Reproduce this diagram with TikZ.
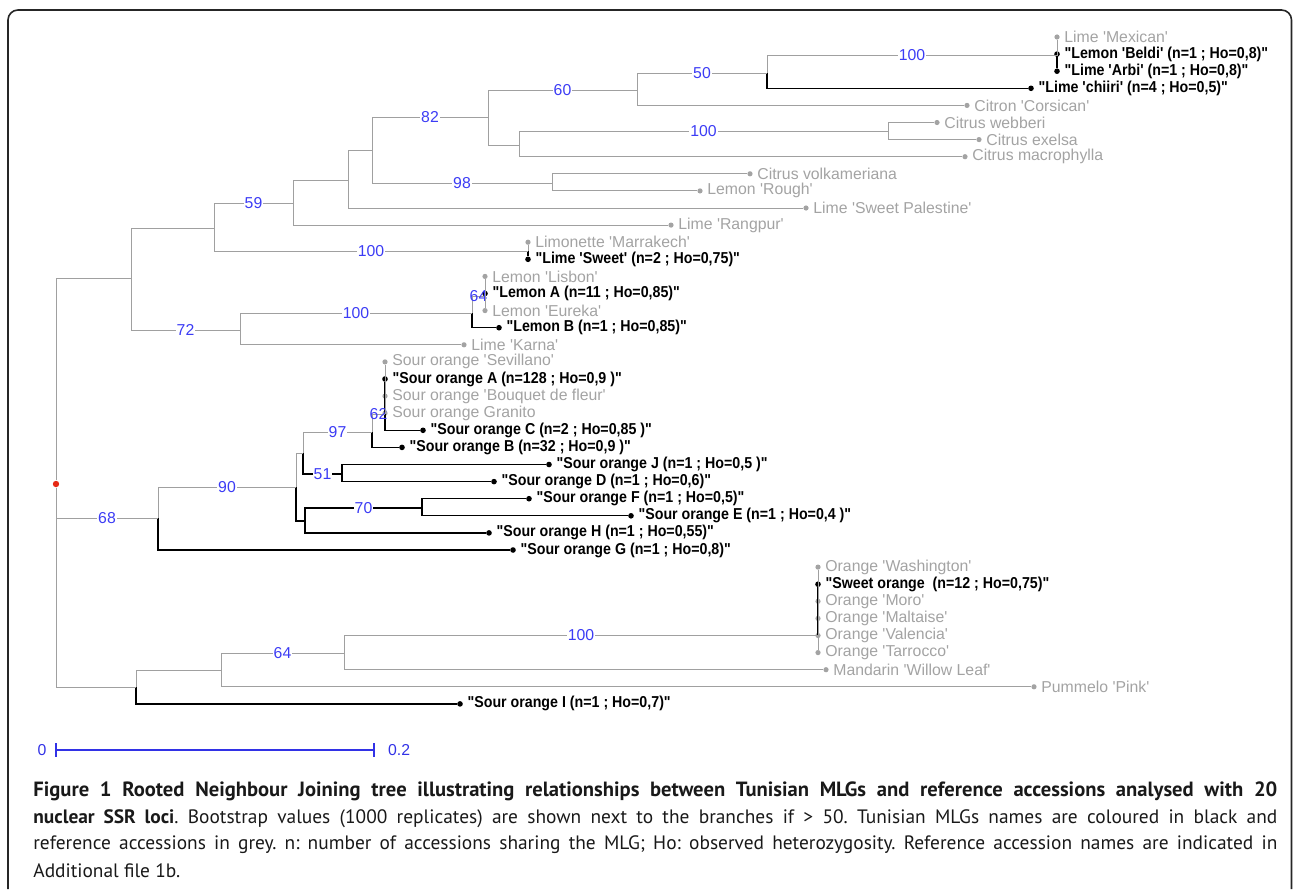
\documentclass[tikz,border=0pt]{standalone}
\usepackage{fontspec}
\setmainfont{Liberation Sans}
\newfontfamily\leaffont{Liberation Sans}
\newfontfamily\mlgfont{Liberation Sans}[FakeStretch=0.9]
\newfontfamily\capfont{PT Sans}
\frenchspacing

\definecolor{refgrey}{RGB}{163,163,163}
\definecolor{brgrey}{RGB}{160,160,160}
\definecolor{bootblue}{RGB}{60,60,245}
\definecolor{barblue}{RGB}{50,50,230}
\definecolor{rootred}{RGB}{230,40,20}

\begin{document}
\begin{tikzpicture}[x=0.5pt,y=-0.5pt,
  refbr/.style={draw=brgrey, line width=0.5pt},
  mlgbr/.style={draw=black, line width=0.65pt},
  reftext/.style={text=refgrey, inner sep=2pt, font=\leaffont\fontsize{7.9}{9}\selectfont},
  mlgtext/.style={text=black, inner sep=2pt, font=\mlgfont\bfseries\fontsize{7.9}{9}\selectfont},
  ref/.style={circle, fill=refgrey, inner sep=0pt, minimum size=2.6pt, label={[reftext]right:{#1}}},
  mlg/.style={circle, fill=black, inner sep=0pt, minimum size=2.8pt, label={[mlgtext]right:{#1}}},
  boot/.style={pos=.75, fill=white, inner sep=0.6pt, text=bootblue, font=\leaffont\fontsize{7.9}{9}\selectfont},
  bootover/.style={boot, fill=none},
  captext/.style={anchor=west, inner sep=0pt, text=black!90, font=\capfont\fontsize{9.7}{11}\selectfont}]
\useasboundingbox (0,0) rectangle (1293,889);
\draw[black!85, line width=0.8pt, rounded corners=5pt] (8,889) -- (8,10) -- (1291.5,10) -- (1291.5,889);

% inner nodes of the tree
\coordinate (n1) at (131,278);
\coordinate (n2) at (214,228);
\coordinate (n3) at (240,330);
\coordinate (n4) at (293,203);
\coordinate (n5) at (528,251);
\coordinate (n6) at (348,180);
\coordinate (n7) at (372,150);
\coordinate (n8) at (488,117);
\coordinate (n9) at (552,183);
\coordinate (n10) at (637,90);
\coordinate (n11) at (519,145);
\coordinate (n12) at (767,73);
\coordinate (n13) at (1057,55.5);
\coordinate (n14) at (888,131);
\coordinate (n15) at (472,313);
\coordinate (n16) at (485,296);
\coordinate (n20) at (158,518);
\coordinate (n21) at (296,487);
\coordinate (n22) at (303,453);
\coordinate (n23) at (305,521);
\coordinate (n24) at (372,432);
\coordinate (n25) at (342,474);
\coordinate (n26) at (385,414);
\coordinate (n28) at (422,508);
\coordinate (n30) at (136,687);
\coordinate (n31) at (221,670);
\coordinate (n32) at (344,653);
\coordinate (n33) at (818,635.5);

% leaves
\node[ref=Lime 'Mexican'] (mexican) at (1057,37) {};
\node[mlg={"Lemon 'Beldi' (n=1 ; Ho=0,8)"}] (beldi) at (1057,54.1) {};
\node[mlg={"Lime 'Arbi' (n=1 ; Ho=0,8)"}] (arbi) at (1057,71.2) {};
\node[mlg={"Lime 'chiiri' (n=4 ; Ho=0,5)"}] (chiiri) at (1031,88.3) {};
\node[ref=Citron 'Corsican'] (corsican) at (967,105.4) {};
\node[ref=Citrus webberi] (webberi) at (937,122.5) {};
\node[ref=Citrus exelsa] (exelsa) at (979,139.6) {};
\node[ref=Citrus macrophylla] (macro) at (965,156.7) {};
\node[ref=Citrus volkameriana] (volk) at (750,173.8) {};
\node[ref=Lemon 'Rough'] (rough) at (700,190.9) {};
\node[ref=Lime 'Sweet Palestine'] (palest) at (806,208) {};
\node[ref=Lime 'Rangpur'] (rangpur) at (671,225.1) {};
\node[ref=Limonette 'Marrakech'] (marrak) at (528,242.2) {};
\node[mlg={"Lime 'Sweet' (n=2 ; Ho=0,75)"}] (lsweet) at (528,259.3) {};
\node[ref=Lemon 'Lisbon'] (lisbon) at (485,276.4) {};
\node[mlg={"Lemon A (n=11 ; Ho=0,85)"}] (lemA) at (485,293.5) {};
\node[ref=Lemon 'Eureka'] (eureka) at (485,310.6) {};
\node[mlg={"Lemon B (n=1 ; Ho=0,85)"}] (lemB) at (499,327.7) {};
\node[ref=Lime 'Karna'] (karna) at (464,344.8) {};
\node[ref=Sour orange 'Sevillano'] (sevil) at (385,361.9) {};
\node[mlg={"Sour orange A (n=128 ; Ho=0,9 )"}] (soA) at (385,379) {};
\node[ref=Sour orange 'Bouquet de fleur'] (bouquet) at (385,396.1) {};
\node[ref=Sour orange Granito] (granito) at (385,413.2) {};
\node[mlg={"Sour orange C (n=2 ; Ho=0,85 )"}] (soC) at (423,430.3) {};
\node[mlg={"Sour orange B (n=32 ; Ho=0,9 )"}] (soB) at (402,447.4) {};
\node[mlg={"Sour orange J (n=1 ; Ho=0,5 )"}] (soJ) at (549,464.5) {};
\node[mlg={"Sour orange D (n=1 ; Ho=0,6)"}] (soD) at (494,481.6) {};
\node[mlg={"Sour orange F (n=1 ; Ho=0,5)"}] (soF) at (529,498.7) {};
\node[mlg={"Sour orange E (n=1 ; Ho=0,4 )"}] (soE) at (631,515.8) {};
\node[mlg={"Sour orange H (n=1 ; Ho=0,55)"}] (soH) at (489,532.9) {};
\node[mlg={"Sour orange G (n=1 ; Ho=0,8)"}] (soG) at (513,550) {};
\node[ref=Orange 'Washington'] (washing) at (818,567.1) {};
\node[mlg={"Sweet orange~ (n=12 ; Ho=0,75)"}] (sweet) at (818,584.2) {};
\node[ref=Orange 'Moro'] (moro) at (818,601.3) {};
\node[ref=Orange 'Maltaise'] (maltaise) at (818,618.4) {};
\node[ref=Orange 'Valencia'] (valencia) at (818,635.5) {};
\node[ref=Orange 'Tarrocco'] (tarrocco) at (818,652.6) {};
\node[ref=Mandarin 'Willow Leaf'] (willow) at (826,669.7) {};
\node[ref=Pummelo 'Pink'] (pink) at (1034,686.8) {};
\node[mlg={"Sour orange I (n=1 ; Ho=0,7)"}] (soI) at (460,703.9) {};

% root
\node[circle, fill=rootred, inner sep=0pt, minimum size=3.2pt] (root) at (56,484) {};

% black branches (MLGs only)
\draw[mlgbr] (n12) |- (chiiri);
\draw[mlgbr] (n13) -- (arbi);
\draw[mlgbr] (n5) -- (lsweet);
\draw[mlgbr] (n16) -- (lemA);
\draw[mlgbr] (n15) |- (lemB);
\draw[mlgbr] (n26) -- (soA);
\draw[mlgbr] (n26) |- (soC);
\draw[mlgbr] (n24) |- (soB);
\draw[mlgbr] (n22) |- node[boot]{51} (n25);
\draw[mlgbr] (n25) |- (soJ);
\draw[mlgbr] (n25) |- (soD);
\draw[mlgbr] (n21) |- (n23);
\draw[mlgbr] (n23) |- node[boot]{70} (n28);
\draw[mlgbr] (n28) |- (soF);
\draw[mlgbr] (n28) |- (soE);
\draw[mlgbr] (n23) |- (soH);
\draw[mlgbr] (n20) |- (soG);
\draw[mlgbr] (n30) |- (soI);
\draw[mlgbr] (n33) -- (sweet);

% grey branches
\draw[refbr] (root) |- (n1);
\draw[refbr] (root) |- node[boot]{68} (n20);
\draw[refbr] (root) |- (n30);
\draw[refbr] (n1) |- (n2);
\draw[refbr] (n1) |- node[boot]{72} (n3);
\draw[refbr] (n2) |- node[boot]{59} (n4);
\draw[refbr] (n2) |- node[boot]{100} (n5);
\draw[refbr] (n4) |- (n6);
\draw[refbr] (n4) |- (rangpur);
\draw[refbr] (n6) |- (n7);
\draw[refbr] (n6) |- (palest);
\draw[refbr] (n7) |- node[boot]{82} (n8);
\draw[refbr] (n7) |- node[boot]{98} (n9);
\draw[refbr] (n8) |- node[boot]{60} (n10);
\draw[refbr] (n8) |- (n11);
\draw[refbr] (n10) |- node[boot]{50} (n12);
\draw[refbr] (n10) |- (corsican);
\draw[refbr] (n12) |- node[boot]{100} (n13);
\draw[refbr] (n13) -- (mexican);
\draw[refbr] (n11) |- node[boot]{100} (n14);
\draw[refbr] (n11) |- (macro);
\draw[refbr] (n14) |- (webberi);
\draw[refbr] (n14) |- (exelsa);
\draw[refbr] (n9) |- (volk);
\draw[refbr] (n9) |- (rough);
\draw[refbr] (n5) -- (marrak);
\draw[refbr] (n3) |- node[boot]{100} (n15);
\draw[refbr] (n3) |- (karna);
\draw[refbr] (n15) |- node[bootover]{64} (n16);
\draw[refbr] (n16) -- (lisbon);
\draw[refbr] (n16) -- (eureka);
\draw[refbr] (n20) |- node[boot]{90} (n21);
\draw[refbr] (n21) |- (n22);
\draw[refbr] (n22) |- node[boot]{97} (n24);
\draw[refbr] (n24) |- node[bootover]{62} (n26);
\draw[refbr] (n26) -- (sevil);
\draw[refbr] (n26) -- (bouquet);
\draw[refbr] (n30) |- (n31);
\draw[refbr] (n31) |- node[boot]{64} (n32);
\draw[refbr] (n31) |- (pink);
\draw[refbr] (n32) |- node[boot]{100} (n33);
\draw[refbr] (n32) |- (willow);
\draw[refbr] (n33) -- (washing);
\draw[refbr] (n33) -- (tarrocco);

% scale bar
\draw[barblue, line width=0.6pt] (56,743) -- (56,757) (56,750) -- (374,750) (374,743) -- (374,757);
\node[text=barblue, font=\leaffont\fontsize{7.9}{9}\selectfont] (bar0) at (42,750) {0};
\node[anchor=west, text=barblue, font=\leaffont\fontsize{7.9}{9}\selectfont] (bar1) at (381,750) {0.2};

% caption
\node[captext] (cap1) at (33,791) {\makebox[622pt][s]{\fontsize{10.3}{11}\selectfont\bfseries Figure 1 Rooted Neighbour Joining tree illustrating relationships between Tunisian MLGs and reference accessions analysed with 20}};
\node[captext] (cap2) at (33,819) {\makebox[622pt][s]{\textbf{nuclear SSR loci}. Bootstrap values (1000 replicates) are shown next to the branches if > 50. Tunisian MLGs names are coloured in black and}};
\node[captext] (cap3) at (33,845) {\makebox[622pt][s]{reference accessions in grey. n: number of accessions sharing the MLG; Ho: observed heterozygosity. Reference accession names are indicated in}};
\node[captext] (cap4) at (33,871) {Additional file 1b.};
\end{tikzpicture}
\end{document}
